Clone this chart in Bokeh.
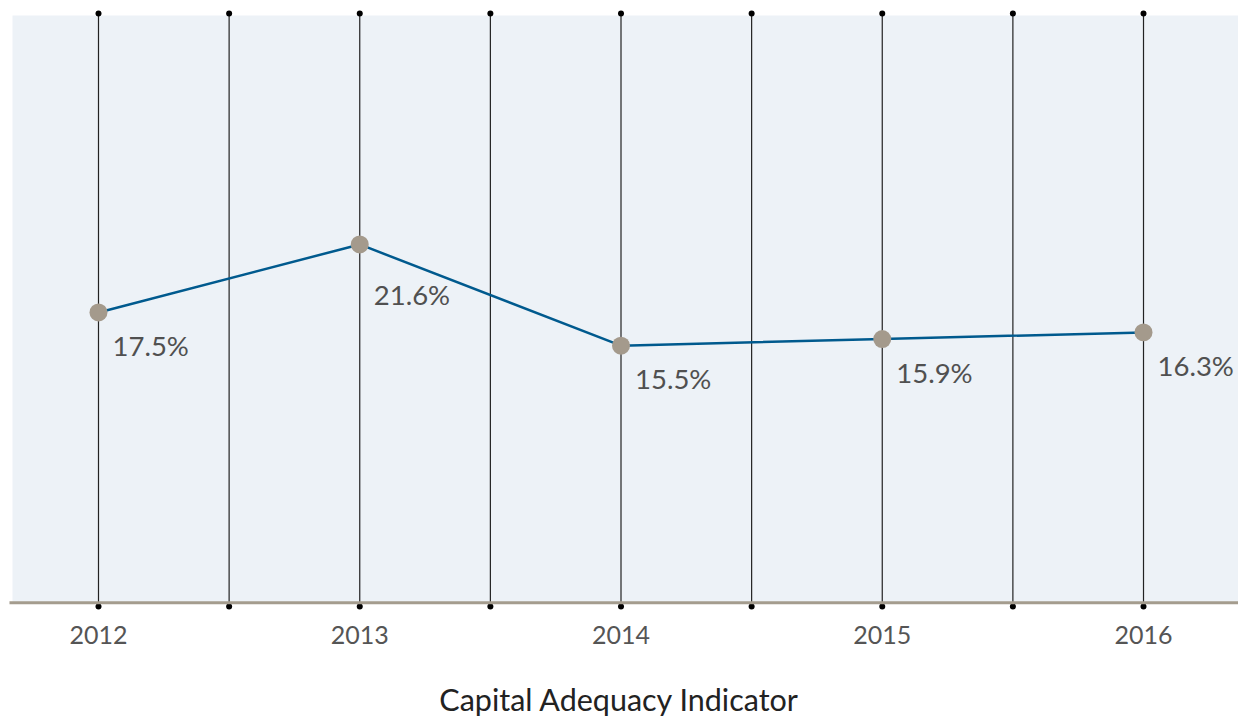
from bokeh.plotting import figure
from bokeh.models import Range1d, FixedTicker
from bokeh.core.properties import value
from bokeh.embed import file_html
from bokeh.resources import INLINE

# ---- data ----
years = [2012, 2013, 2014, 2015, 2016]
ratios = [17.5, 21.6, 15.5, 15.9, 16.3]
ratio_labels = ["17.5%", "21.6%", "15.5%", "15.9%", "16.3%"]
axis_title = "Capital Adequacy Indicator"

# grid lines at each year and halfway between years
grid_x = []
for i, y in enumerate(years):
    grid_x.append(y)
    if i < len(years) - 1:
        grid_x.append((y + years[i + 1]) / 2)

FONT = "Lato"

x_start, x_end = 2011.6249, 2016.3636
y_start, y_end = -0.524, 36.305
bg_left, bg_top = 2011.6708, 35.40
grid_top, grid_bottom = 35.52, -0.223

p = figure(width=1238, height=720, output_backend="svg", toolbar_location=None,
           x_range=Range1d(x_start, x_end), y_range=Range1d(y_start, y_end),
           min_border_left=0, min_border_right=0, min_border_top=0, min_border_bottom=109)
p.background_fill_color = "white"
p.border_fill_color = "white"
p.outline_line_color = None
p.xgrid.visible = False
p.ygrid.visible = False
p.yaxis.visible = False

# plot-area background
p.quad(left=bg_left, right=x_end, bottom=0, top=bg_top, fill_color="#edf2f7", line_color=None)

# vertical grid lines with end dots
p.segment(x0=grid_x, x1=grid_x, y0=[grid_bottom] * len(grid_x), y1=[grid_top] * len(grid_x),
          line_color="#222222", line_width=1.2)
p.scatter(x=grid_x + grid_x, y=[grid_top] * len(grid_x) + [grid_bottom] * len(grid_x),
          size=6, fill_color="black", line_color=None)

# baseline
p.line(x=[2011.6593, x_end], y=[0, 0], line_color="#a49c8e", line_width=3)

# series
p.line(x=years, y=ratios, line_color="#005a8e", line_width=2.5)
p.scatter(x=years, y=ratios, size=18, fill_color="#a49a8c", line_color=None)
p.text(x=years, y=ratios, text=ratio_labels, x_offset=14, y_offset=[33, 50, 33, 33, 33],
       text_align="left", text_baseline="middle", text_font=value(FONT),
       text_font_size="27.5px", text_color="#505050")

ax = p.xaxis[0]
ax.ticker = FixedTicker(ticks=years)
ax.axis_line_color = None
ax.major_tick_line_color = None
ax.minor_tick_line_color = None
ax.major_label_text_font = FONT
ax.major_label_text_font_size = "25px"
ax.major_label_text_color = "#555555"
ax.major_label_standoff = 8
ax.axis_label = axis_title
ax.axis_label_text_font = FONT
ax.axis_label_text_font_style = "normal"
ax.axis_label_text_font_size = "30.5px"
ax.axis_label_text_color = "#222222"
ax.axis_label_standoff = 34

open("out.html", "w").write(file_html(p, INLINE))
